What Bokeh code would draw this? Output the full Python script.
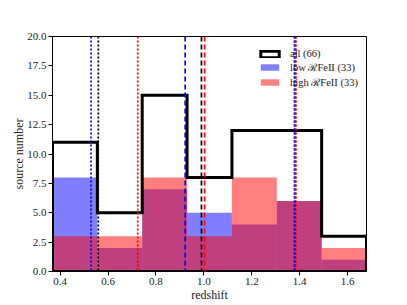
import numpy as np
from bokeh.plotting import figure
from bokeh.models import Range1d, FixedTicker, NumeralTickFormatter, Span, Legend, LegendItem
from bokeh.embed import file_html
from bokeh.resources import INLINE

# ---- data ----
z_min = 0.368
z_max = 1.679
n_bins = 7
all_counts = [11, 5, 15, 8, 12, 12, 3]
low_counts = [8, 2, 7, 5, 4, 6, 1]
high_counts = [3, 3, 8, 3, 8, 6, 2]

# percentile (16, 50, 84) markers
all_pct = [0.559, 0.990, 1.381]
low_pct = [0.529, 0.922, 1.378]
high_pct = [0.724, 1.003, 1.385]

x_ticks = [0.4, 0.6, 0.8, 1.0, 1.2, 1.4, 1.6]
y_ticks = [0.0, 2.5, 5.0, 7.5, 10.0, 12.5, 15.0, 17.5, 20.0]

labels = ["all (66)", "low \u211bFeII (33)", "high \u211bFeII (33)"]

FONT = "Liberation Serif"

edges = np.linspace(z_min, z_max, n_bins + 1)

p = figure(width=407, height=305, output_backend="svg", toolbar_location=None,
           x_range=Range1d(z_min, z_max), y_range=Range1d(0, 20),
           min_border_left=52, min_border_right=41, min_border_top=36, min_border_bottom=34)

p.xgrid.visible = False
p.ygrid.visible = False
p.outline_line_color = "black"
p.outline_line_width = 1
p.outline_line_alpha = 1
p.background_fill_color = "white"
p.border_fill_color = "white"

blue = p.quad(left=edges[:-1], right=edges[1:], bottom=0, top=low_counts,
              fill_color="blue", fill_alpha=0.5, line_color=None)
red = p.quad(left=edges[:-1], right=edges[1:], bottom=0, top=high_counts,
             fill_color="red", fill_alpha=0.5, line_color=None)

step_x = np.repeat(edges, 2)
step_y = np.concatenate([[0], np.repeat(all_counts, 2), [0]])
all_hist = p.patch(step_x, step_y, fill_color=None, line_color="black",
                   line_width=3, line_join="miter")

for pct, col in [(all_pct, "black"), (low_pct, "blue"), (high_pct, "red")]:
    for i, loc in enumerate(pct):
        dash = "5 3" if i == 1 else "2 2"
        p.add_layout(Span(location=loc, dimension="height", line_color=col,
                          line_width=1.7, line_dash=dash))

legend = Legend(items=[LegendItem(label=labels[0], renderers=[all_hist]),
                       LegendItem(label=labels[1], renderers=[blue]),
                       LegendItem(label=labels[2], renderers=[red])],
                location=(206, 182), orientation="vertical",
                background_fill_alpha=0, border_line_color=None,
                padding=0, spacing=1, glyph_width=23, glyph_height=8,
                label_standoff=9, label_height=11,
                label_text_font=FONT, label_text_font_size="10.5px",
                label_text_color="#222222")
p.add_layout(legend, "center")

for ax in (p.xaxis[0], p.yaxis[0]):
    ax.major_label_text_font = FONT
    ax.major_label_text_font_size = "11px"
    ax.major_label_text_color = "#222222"
    ax.axis_label_text_font = FONT
    ax.axis_label_text_font_size = "12px"
    ax.axis_label_text_font_style = "normal"
    ax.axis_label_text_color = "#222222"
    ax.major_tick_in = 0
    ax.major_tick_out = 4
    ax.minor_tick_in = 0
    ax.minor_tick_out = 0
    ax.axis_line_color = "black"
    ax.major_tick_line_color = "black"
    ax.major_label_standoff = 2
    ax.formatter = NumeralTickFormatter(format="0.0")

p.xaxis.ticker = FixedTicker(ticks=x_ticks)
p.yaxis.ticker = FixedTicker(ticks=y_ticks)
p.xaxis.axis_label = "redshift"
p.yaxis.axis_label = "source number"
p.xaxis.axis_label_standoff = 0
p.yaxis.axis_label_standoff = -2

open("out.html", "w").write(file_html(p, INLINE))
